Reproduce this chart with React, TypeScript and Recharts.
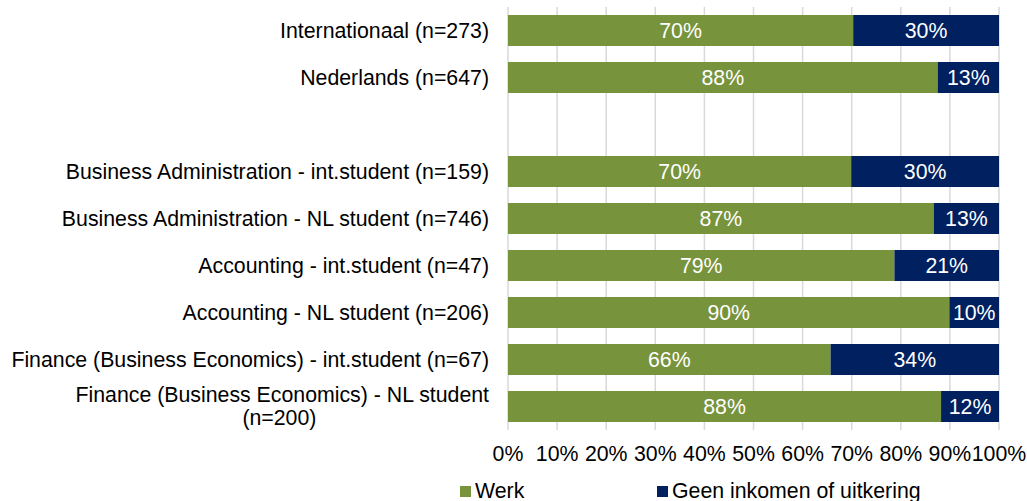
import { BarChart, Bar, XAxis, YAxis, CartesianGrid, LabelList } from 'recharts'

const categories = [
  'Internationaal (n=273)',
  'Nederlands (n=647)',
  '',
  'Business Administration - int.student (n=159)',
  'Business Administration - NL student (n=746)',
  'Accounting - int.student (n=47)',
  'Accounting - NL student (n=206)',
  'Finance (Business Economics) - int.student (n=67)',
  'Finance (Business Economics) - NL student\n(n=200)',
]
const werk = [70.3, 87.5, null, 69.9, 86.7, 78.7, 89.9, 65.7, 88.2]
const geenInkomen = [29.7, 12.5, null, 30.1, 13.3, 21.3, 10.1, 34.3, 11.8]
const xTicks = [0, 10, 20, 30, 40, 50, 60, 70, 80, 90, 100]
const seriesNames = ['Werk', 'Geen inkomen of uitkering']

const GREEN = '#77933C'
const NAVY = '#002060'
const FONT = '"Liberation Sans", Arial, sans-serif'
const FS = 21.3

const data = categories.map((name, i) => ({ name, werk: werk[i], geen: geenInkomen[i] }))

const pct = (v: any) => (v == null || v === '' ? '' : `${Math.round(Number(v))}%`)

const CategoryTick = ({ x, y, payload }: any) => {
  const lines: string[] = String(payload.value ?? '').split('\n')
  if (lines.length === 1) {
    return (
      <text x={x} y={y} dy="0.35em" textAnchor="end" fill="#000" fontSize={FS} fontFamily={FONT}>
        {lines[0]}
      </text>
    )
  }
  // second line centred under the first, as in the original
  const firstWidth = lines[0].length * FS * 0.48
  return (
    <g>
      <text x={x} y={y - 11.5} dy="0.35em" textAnchor="end" fill="#000" fontSize={FS} fontFamily={FONT}>
        {lines[0]}
      </text>
      <text x={x - firstWidth / 2} y={y + 11.5} dy="0.35em" textAnchor="middle" fill="#000" fontSize={FS} fontFamily={FONT}>
        {lines[1]}
      </text>
    </g>
  )
}

export default function App() {
  const colors = [GREEN, NAVY]
  return (
    <div style={{ position: 'absolute', left: 0, top: 0, width: 1027, height: 501, background: '#fff', overflow: 'hidden' }}>
      <BarChart
        width={1027}
        height={501}
        data={data}
        layout="vertical"
        margin={{ top: 7, right: 28, left: 0, bottom: 41 }}
        barSize={31}
      >
        <CartesianGrid horizontal={false} stroke="#d9d9d9" strokeWidth={1.5} />
        <XAxis
          type="number"
          domain={[0, 100]}
          ticks={xTicks}
          tickFormatter={(v) => `${v}%`}
          axisLine={false}
          tickLine={false}
          tick={{ fill: '#000', fontSize: FS, fontFamily: FONT }}
          tickMargin={10}
          interval={0}
        />
        <YAxis
          dataKey="name"
          type="category"
          width={508}
          axisLine={false}
          tickLine={false}
          tickMargin={13}
          interval={0}
          tick={<CategoryTick />}
        />
        <Bar dataKey="werk" name={seriesNames[0]} stackId="a" fill={GREEN} isAnimationActive={false}>
          <LabelList dataKey="werk" position="center" formatter={pct} fill="#fff" fontSize={FS} fontFamily={FONT} />
        </Bar>
        <Bar dataKey="geen" name={seriesNames[1]} stackId="a" fill={NAVY} isAnimationActive={false}>
          <LabelList dataKey="geen" position="center" formatter={pct} fill="#fff" fontSize={FS} fontFamily={FONT} />
        </Bar>
      </BarChart>
      <div
        style={{
          position: 'absolute',
          left: 460,
          top: 479,
          display: 'flex',
          fontFamily: FONT,
          fontSize: FS,
          color: '#000',
          lineHeight: '24px',
          whiteSpace: 'nowrap',
        }}
      >
        {seriesNames.map((n, i) => (
          <div key={n} style={{ width: 197, flexShrink: 0, display: 'flex', alignItems: 'center' }}>
            <span style={{ width: 11, height: 11, flexShrink: 0, background: colors[i], marginRight: 4, display: 'inline-block' }} />
            {n}
          </div>
        ))}
      </div>
    </div>
  )
}
